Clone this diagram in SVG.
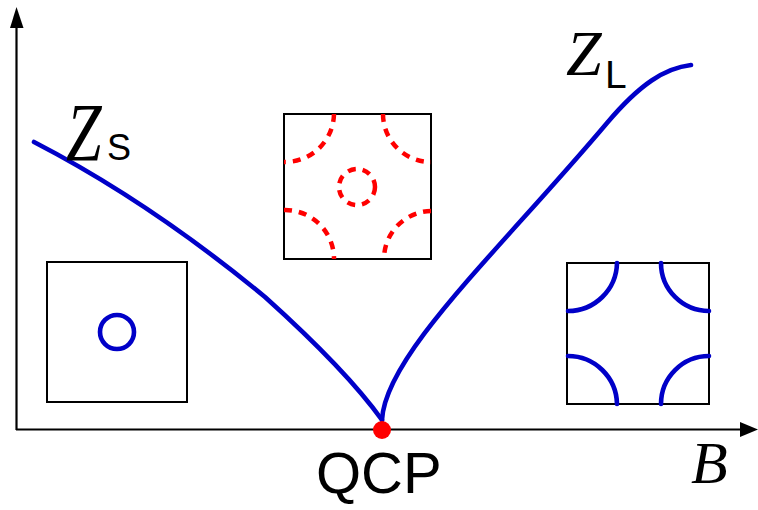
<svg xmlns="http://www.w3.org/2000/svg" width="758" height="510" viewBox="0 0 758 510">
<style>
.box{fill:none;stroke:#000;stroke-width:2}
.blue{fill:none;stroke:#0000c8;stroke-width:4.6;stroke-linecap:round}
.red{fill:none;stroke:#ff0000;stroke-width:4.5;stroke-dasharray:8 7}
.axis{stroke:#000;stroke-width:2.2;fill:none}
.serif{font-family:"Liberation Serif","Times New Roman",serif}
.ital{font-style:italic}
.sans{font-family:"Liberation Sans",Arial,sans-serif}
</style>
<rect width="758" height="510" fill="#fff"/>
<g id="axes">
<line class="axis" x1="16.5" y1="430" x2="16.5" y2="26"/>
<polygon points="16.5,7 10,28 23.5,28" fill="#000"/>
<line class="axis" x1="16" y1="429.5" x2="742" y2="429.5"/>
<polygon points="740,422 758,429.5 740,437" fill="#000"/>
</g>
<g id="connectors">
<path class="blue" d="M34,142 Q150,202 265,297 C305,333 352,378 382,420"/>
<path class="blue" d="M382,420 C385,355 500,250 607,123 C640,84 665,68 691,65"/>
</g>
<g id="inset-small">
<rect class="box" x="47" y="262" width="140" height="140"/>
<circle cx="117" cy="332" r="17" fill="none" stroke="#0000c8" stroke-width="4.6"/>
</g>
<g id="inset-qcp">
<rect class="box" x="284" y="114" width="147" height="145"/>
<circle class="red" cx="357" cy="187" r="18"/>
<path class="red" d="M334,114 A49,49 0 0 1 284,162"/>
<path class="red" d="M383,114 A48,48 0 0 0 431,162"/>
<path class="red" d="M284,210 A49,49 0 0 1 334,259"/>
<path class="red" d="M431,211 A48,48 0 0 0 384,259"/>
</g>
<g id="inset-large">
<rect class="box" x="567" y="263" width="142" height="141"/>
<path class="blue" d="M617,263 A49,49 0 0 1 568,311" stroke-linecap="butt"/>
<path class="blue" d="M661,263 A48,48 0 0 0 709,311" stroke-linecap="butt"/>
<path class="blue" d="M568,356 A49,49 0 0 1 617,404" stroke-linecap="butt"/>
<path class="blue" d="M709,356 A48,48 0 0 0 661,404" stroke-linecap="butt"/>
</g>
<g id="label-ZS">
<text class="serif ital" transform="translate(66,160) scale(1,1.3)" font-size="64">Z</text>
<text class="sans" x="107" y="160" font-size="36">S</text>
</g>
<g id="label-ZL">
<text class="serif ital" x="566" y="75" font-size="64">Z</text>
<text class="sans" x="605" y="88" font-size="39">L</text>
</g>
<g id="qcp">
<circle cx="382" cy="430" r="9" fill="#ff0000"/>
<text class="sans" x="316" y="493" font-size="58">QCP</text>
</g>
<g id="label-B">
<text class="serif ital" x="691" y="483" font-size="60">B</text>
</g>
</svg>
